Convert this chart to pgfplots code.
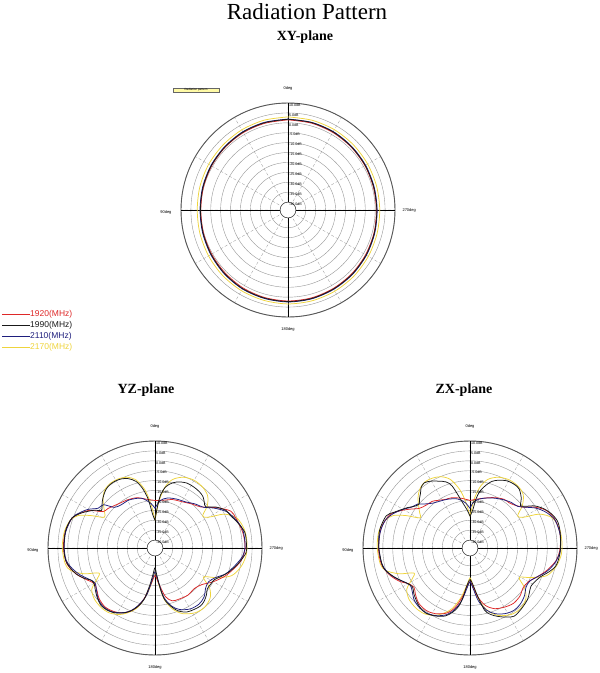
\documentclass[border=0pt]{standalone}
\usepackage{fontspec}
\setmainfont{Liberation Serif}
\newfontfamily\lsans{Liberation Sans}
\usepackage{pgfplots}
\usepackage{pgfplotstable}
\usepgfplotslibrary{polar}
\pgfplotsset{compat=1.18}

\definecolor{c1920}{RGB}{222,40,40}
\definecolor{c1990}{RGB}{25,25,25}
\definecolor{c2110}{RGB}{30,30,125}
\definecolor{c2170}{RGB}{238,212,60}
\definecolor{gridc}{RGB}{150,150,150}

% angle t: degrees from the top, counter-clockwise; d: gain in dB
\pgfplotstableread{
t d
0 1.5
15 1.3
30 1.1
45 0.8
60 0.5
75 0.2
90 0.0
105 0.2
120 0.5
135 0.9
150 1.4
165 1.7
180 1.9
195 1.9
210 1.7
225 1.5
240 1.2
255 0.9
270 0.6
285 0.6
300 0.8
315 1.0
330 1.2
345 1.4
360 1.5
}\xyR
\pgfplotstableread{
t d
0 1.8
15 1.6
30 1.4
45 1.0
60 0.7
75 0.4
90 0.2
105 0.4
120 0.8
135 1.3
150 1.8
165 2.0
180 2.2
195 2.2
210 2.0
225 1.8
240 1.5
255 1.1
270 0.8
285 0.8
300 1.0
315 1.2
330 1.5
345 1.7
360 1.8
}\xyK
\pgfplotstableread{
t d
0 1.9
15 1.8
30 1.6
45 1.2
60 0.9
75 0.6
90 0.4
105 0.6
120 1.0
135 1.5
150 2.0
165 2.2
180 2.4
195 2.4
210 2.2
225 2.0
240 1.7
255 1.3
270 1.0
285 1.0
300 1.2
315 1.4
330 1.7
345 1.8
360 1.9
}\xyN
\pgfplotstableread{
t d
0 3.0
15 2.9
30 2.7
45 2.4
60 2.2
75 2.0
90 1.8
105 2.0
120 2.3
135 2.7
150 3.0
165 3.2
180 3.4
195 3.4
210 3.3
225 3.1
240 2.8
255 2.5
270 2.3
285 2.3
300 2.4
315 2.6
330 2.8
345 2.9
360 3.0
}\xyY

\pgfplotstableread{
t d
0 -30
4 -27
8 -19
12 -13
16 -9
21 -6.5
26 -5.2
31 -4.7
36 -4.8
40 -5.5
44 -6.8
48 -8.3
52 -10
55 -11
58 -8
61 -5.7
65 -2.5
70 0.5
75 1.5
80 2
90 2
98 1.5
103 0
108 -2
113 -5
117 -8
121 -8.3
125 -7.2
131 -5.5
137 -4.2
143 -4.5
148 -5.5
154 -7.5
159 -10
164 -13.5
168 -17.5
172 -25
176 -31
180 -34
184 -30
188 -22
191 -17
196 -13
200 -10.3
206 -8
212 -7.3
218 -6.8
223 -7.5
228 -9
232 -10.5
237 -10.5
242 -10
247 -7.5
253 -4.3
260 -1
267 2
272 2.2
280 2
288 -0.7
293 -2.5
298 -3.5
304 -7
309 -11
313 -10
317 -8.5
322 -7.8
328 -7.5
334 -7.5
340 -8.5
345 -10
350 -12.6
354 -17
357 -24
360 -30
}\yzK
\pgfplotstableread{
t d
0 -20
10 -19
20 -17
30 -16
40 -15
50 -13
55 -12
60 -6
65 -2.5
70 0.5
80 2
90 2.2
100 1.2
108 -2
115 -6
120 -8.5
125 -8
132 -6
140 -5
148 -6
155 -8
162 -12
168 -18
174 -26
180 -30
186 -26
192 -19
198 -16
205 -15.5
215 -15
224 -15.5
232 -14
240 -10
248 -6
255 -3
262 0
270 1.5
280 1
290 -0.5
296 -1.5
303 -6.7
312 -13
320 -15
330 -17
340 -18
350 -19.5
360 -20
}\yzR
\pgfplotstableread{
t d
0 -24
5 -21.5
15 -18
28 -16.5
38 -16.3
45 -15
50 -10
55 -9
60 -5
65 -2
70 0.5
80 1.8
90 1.8
98 1.2
104 -1
110 -4
115 -7
120 -9
126 -7.5
132 -5.5
138 -4.5
145 -5
152 -7
158 -9.5
164 -14
170 -20
176 -29
180 -32
184 -29
190 -19
196 -13.5
202 -10.5
210 -8.5
218 -8
225 -9
232 -11.5
238 -12
244 -10
250 -6
258 -2.5
265 0.5
272 1.5
282 1.2
290 -1
297 -3.5
304 -8
310 -12
318 -14
326 -16
336 -17
346 -18
354 -20
360 -24
}\yzN
\pgfplotstableread{
t d
0 -30
5 -22
10 -14
16 -8
22 -5.5
28 -4.5
34 -4.3
40 -5
45 -7
50 -10
55 -13
59 -14
63 -8
67 -2
72 1
80 2.5
90 2.8
100 2
105 0
110 -6
114 -13
118 -11
123 -6
130 -4
138 -3.5
145 -4
152 -6
158 -9
164 -13
170 -20
176 -28
180 -32
184 -28
190 -18
196 -12
203 -8
212 -5.5
220 -5
228 -6.5
234 -10
239 -15.5
244 -10
250 -3
258 0.5
266 2.2
274 2.5
282 2
290 0
296 -5
300 -13
304 -15
309 -10
315 -6.5
322 -5
330 -4.5
338 -5.5
345 -8
350 -12
355 -20
360 -30
}\yzY

\pgfplotstableread{
t d
0 -28
4 -25
10 -20
16 -11.5
20 -8.5
25 -6.8
30 -5
35 -3.8
39 -4.8
42 -6.7
46 -8.5
49 -10
53 -9
57 -6.5
60 -4.8
65 -1.5
69 1.3
79 2.5
90 2
102 1
108 -1.5
114 -4.8
119 -7.5
124 -9
129 -7.5
134 -6.2
140 -4.8
146 -4.3
153 -5.5
160 -7.5
165 -10.5
169 -14
172 -19
175 -24.6
180 -28
185 -25
188 -21
193 -12
197 -9
202 -6.8
208 -4.5
213 -3
220 -3.8
228 -5
233 -6.5
238 -7.7
243 -7
248 -5.5
253 -2.5
258 0.2
264 1.2
270 1.7
280 2.2
287 2.2
293 0.5
298 -1.8
303 -5
307 -9
310 -10.7
314 -8
320 -5.3
325 -4.8
331 -5.3
337 -6.8
342 -8.7
346 -11.5
350 -14.8
353 -19
356 -25
360 -28
}\zxK
\pgfplotstableread{
t d
0 -20
10 -18.5
20 -17
27 -16.5
34 -15
39 -13.7
46 -13
52 -11.5
57 -8
62 -4
68 0
78 2
90 2.2
100 1.5
108 -1
115 -4.5
120 -8
125 -9.5
130 -8
137 -6
145 -5.5
152 -6.5
160 -9
166 -13
172 -20
176 -25
180 -27
184 -25
189 -19
195 -14
202 -11
210 -9.5
218 -8.5
226 -9
233 -10.5
240 -10
247 -7
254 -3.5
262 0
270 1.5
280 2
290 1
297 -1.5
303 -6
307 -9.8
313 -12.5
319 -13.8
325 -14
333 -15.5
340 -17
348 -18.5
355 -19.5
360 -20
}\zxR
\pgfplotstableread{
t d
0 -24
6 -21
14 -18.5
24 -17
32 -16
40 -14.5
46 -12
50 -9.5
55 -8
60 -5
66 -1.5
72 1
80 2
90 2
100 1.2
106 -0.5
112 -3.5
117 -6.5
122 -8.5
127 -7.5
133 -5.5
140 -4.5
147 -4.6
154 -6
161 -8.5
166 -12
171 -17
176 -24
180 -27
184 -24
189 -17
195 -11.5
201 -8.5
208 -6.5
215 -5.5
222 -6
229 -7.5
235 -9.5
241 -9.5
247 -7
253 -3.5
260 -0.5
268 1.5
278 2
288 1.2
295 -1.5
301 -5
306 -9
311 -12
318 -13
326 -14.5
334 -16
342 -17.5
350 -19
356 -21
360 -24
}\zxN
\pgfplotstableread{
t d
0 -28
5 -21
10 -14
16 -8
22 -5.2
28 -4
34 -3.6
40 -4.8
45 -7
50 -10
55 -13
59 -14.5
63 -8
67 -2
72 1
80 2.8
90 2.8
100 2
105 0
110 -6
114 -13
118 -11
123 -6
130 -3.8
138 -3.2
145 -3.6
152 -5.5
158 -8.5
164 -12.5
170 -19
176 -26
180 -29
184 -26
190 -17
196 -11
203 -7
212 -4.5
220 -4.2
228 -6
234 -10
239 -15
244 -10
250 -3
258 0.5
266 2.2
274 2.5
282 2.2
290 0.3
296 -5
300 -13
304 -15
309 -10
315 -6
322 -4.5
330 -4.3
338 -5.5
345 -8
350 -12
355 -19
360 -28
}\zxY

\pgfplotsset{
  rp/.style={
    scale only axis, width=214pt, height=214pt, anchor=center,
    xmin=0, xmax=360, ymin=0, ymax=54,
    xtick={0,30,...,330}, ytick={4,9,...,54},
    xticklabels={}, yticklabels={},
    major tick length=0pt,
    xmajorgrids, ymajorgrids,
    x grid style={densely dashed, gridc, line width=0.3pt},
    y grid style={gridc, line width=0.4pt},
    axis line style={black!65, line width=0.9pt},
    clip=false,
  },
  s1920/.style={c1920, line width=0.75pt, smooth},
  s1990/.style={c1990, line width=0.75pt, smooth},
  s2110/.style={c2110, line width=0.75pt, smooth},
  s2170/.style={c2170, line width=0.75pt, smooth},
}

\newcommand\cross{%
  \draw[black, line width=0.4pt] (axis cs:0,54) -- (axis cs:180,54);
  \draw[black, line width=0.4pt] (axis cs:90,54) -- (axis cs:270,54);}
\newcommand\hole{%
  \draw[black!80, line width=0.5pt, fill=white] (axis cs:0,0) circle[radius=7.9pt];}
\newcommand\pat[2]{%
  \addplot[#1] table[x expr=\thisrow{t}+90, y expr=\thisrow{d}+44] {#2};}

% dB labels and angle labels round a pattern centred at (#1,#2) px
\newcommand\deco[2]{%
  \begin{scope}[shift={(#1pt,-#2pt)}, x=1pt, y=1.98148pt,
      font=\lsans\fontsize{3.6}{4}\selectfont]
    \foreach \v/\t in {10/10.0,5/5.0,0/0.0,-5/-5.0,-10/-10.0,-15/-15.0,
        -20/-20.0,-25/-25.0,-30/-30.0,-35/-35.0,-40/-40.0}
      \node[anchor=north west, inner sep=0.4pt] at (0.6,{\v+44}) {\t dB};
  \end{scope}
  \begin{scope}[shift={(#1pt,-#2pt)}, font=\lsans\fontsize{4}{5}\selectfont]
    \node[anchor=south] at (0,116pt) {0deg};
    \node[anchor=east] at (-113pt,-2pt) {90deg};
    \node[anchor=west] at (111pt,0) {270deg};
    \node[anchor=north] at (0,-114pt) {180deg};
  \end{scope}}

\begin{document}
\begin{tikzpicture}
\useasboundingbox (0,0) rectangle (600pt,-673pt);

\node[font=\fontsize{23}{26}\selectfont] at (307pt,-12pt) {Radiation Pattern};
\node[font=\bfseries\fontsize{14}{16}\selectfont] at (305pt,-37pt) {XY-plane};
\node[font=\bfseries\fontsize{14}{16}\selectfont] at (146pt,-390pt) {YZ-plane};
\node[font=\bfseries\fontsize{14}{16}\selectfont] at (464pt,-390pt) {ZX-plane};

\node[draw=black!60, fill=yellow!35, inner sep=0.6pt, minimum width=46pt,
  minimum height=4pt, font=\lsans\fontsize{3}{3}\selectfont]
  at (196pt,-90pt) {Radiation pattern};

\begin{polaraxis}[rp, at={(288pt,-210pt)}]
  \cross
  \pat{s2170}{\xyY}
  \pat{s1920}{\xyR}
  \pat{s2110}{\xyN}
  \pat{s1990}{\xyK}
  \hole
\end{polaraxis}
\deco{288}{210}

\begin{polaraxis}[rp, at={(155pt,-548pt)}]
  \cross
  \pat{s2170}{\yzY}
  \pat{s1920}{\yzR}
  \pat{s2110}{\yzN}
  \pat{s1990}{\yzK}
  \hole
\end{polaraxis}
\deco{155}{548}

\begin{polaraxis}[rp, at={(470pt,-548pt)}]
  \cross
  \pat{s2170}{\zxY}
  \pat{s1920}{\zxR}
  \pat{s2110}{\zxN}
  \pat{s1990}{\zxK}
  \hole
\end{polaraxis}
\deco{470}{548}

\begin{scope}[font=\lsans\fontsize{8.5}{9}\selectfont]
  \draw[c1920, line width=0.8pt] (2pt,-314pt) -- (30pt,-314pt);
  \node[anchor=west, text=c1920, inner sep=1pt] at (29pt,-314pt) {1920(MHz)};
  \draw[c1990, line width=0.8pt] (2pt,-325pt) -- (30pt,-325pt);
  \node[anchor=west, text=c1990, inner sep=1pt] at (29pt,-325pt) {1990(MHz)};
  \draw[c2110, line width=0.8pt] (2pt,-336pt) -- (30pt,-336pt);
  \node[anchor=west, text=c2110, inner sep=1pt] at (29pt,-336pt) {2110(MHz)};
  \draw[c2170, line width=0.8pt] (2pt,-347pt) -- (30pt,-347pt);
  \node[anchor=west, text=c2170, inner sep=1pt] at (29pt,-347pt) {2170(MHz)};
\end{scope}
\end{tikzpicture}
\end{document}
